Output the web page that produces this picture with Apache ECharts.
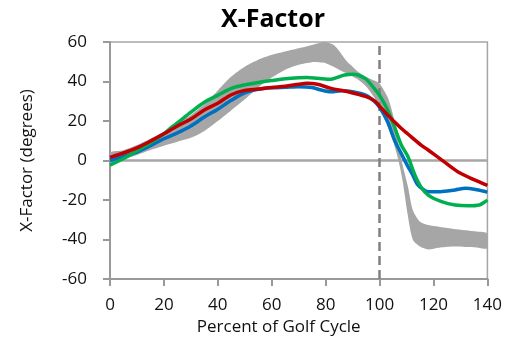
<!DOCTYPE html>
<html><head><meta charset="utf-8">
<script src="https://cdn.jsdelivr.net/npm/echarts@6/dist/echarts.min.js"></script>
<style>html,body{margin:0;padding:0;background:#fff}#c{width:505px;height:345px}</style>
</head><body><div id="c"></div>
<script>
// ---- data ----
const chartTitle = "X-Factor";
const xAxisTitle = "Percent of Golf Cycle";
const yAxisTitle = "X-Factor (degrees)";
const xRange = [0, 140, 20];   // min, max, step of tick labels
const yRange = [-60, 60, 20];
const swingEndX = 100;          // dashed vertical reference
const zeroY = 0;                // horizontal reference

// grey normative band (upper/lower edges)
const bandX = [0,5,10,15,20,25,30,35,40,45,50,55,60,65,70,75,78,80,83,85,88,90,92,95,98,100,103,105,107,108.5,110.5,112.3,115,118,122,127,132,136,140];
const bandUpper = [4,5.2,7.8,11,14.5,18.5,23,28.5,35.5,42.5,47.5,51,53.5,55.2,56.8,58.5,59.6,60,58.5,55.5,50,47.5,45,42.4,40.5,39,32,23,8,-2,-13,-25,-31,-32.7,-33.5,-34.5,-35.3,-36,-37];
const bandLower = [-1.5,0.5,2.8,5.3,7.5,9.5,11.5,15,20,25.5,31,37,42,46,48.5,49.8,49.6,49.3,47.5,46,44,42.5,41,37.5,32,27,17,10,0,-10,-28,-40,-43.6,-45,-44.2,-43.6,-43.8,-44,-44.5];

// blue subject
const blueX = [0,5,10,15,20,25,30,35,40,45,50,55,60,65,70,75,78,82,86,90,95,98,100,103,105.5,108,110.5,112,114,116,118,122,126,128,132,136,140];
const blueY = [0,2,4.3,7.5,11,14,17.5,22,26,30.5,34.2,36,36.8,37.1,37.4,37,35.8,34.8,35.3,34.8,33,30,27,19.6,10.4,3.6,-3,-6.5,-12,-14.5,-15.8,-15.8,-15.3,-14.9,-14.1,-14.8,-16];

// green subject
const greenX = [0,5,10,15,20,23,25,30,35,40,45,50,55,60,65,70,73,77,82,85,87,90,92,95,98,100,103,105.5,108,110.5,113,115.4,118,123,128,133,137,139,140];
const greenY = [-2.3,1,5,9,13.5,17,19,24.5,29.5,33,36.5,38.3,39.5,40.5,41.4,41.9,42,41.6,41.1,42.4,43.3,43.7,43.3,41.2,36.5,33,25.6,17.1,8,2,-7,-13.5,-17.5,-20.8,-22.5,-22.9,-22.5,-21,-20];

// red subject
const redX = [0,5,10,15,20,25,30,35,40,45,50,55,60,65,70,73,77,82,87,90,95,98,100,103,105.5,108,110.5,115.4,118,123,129,135,140];
const redY = [1.6,3.8,6.4,9.8,13.5,17.5,21,25.6,29,33.3,35.5,36.2,37,37.6,38.6,39.1,38.6,36.5,35.2,34.2,32.3,30.3,27.5,23,19.6,16.3,13.4,7.8,5.3,0.3,-5.7,-9.7,-12.6];

// ---- build ----
const pairs = (xs, ys) => xs.map((x, i) => [x, ys[i]]);
const FONT = "Open Sans";

function renderBand(params, api) {
  if (params.dataIndex !== 0) return null;
  const pts = [];
  for (let i = 0; i < bandX.length; i++) pts.push(api.coord([bandX[i], bandUpper[i]]));
  for (let i = bandX.length - 1; i >= 0; i--) pts.push(api.coord([bandX[i], bandLower[i]]));
  return {
    type: 'polygon',
    shape: {points: pts, smooth: 0.25},
    style: {fill: '#A6A6A6', stroke: null}
  };
}

const chart = echarts.init(document.getElementById('c'), null, {renderer: 'canvas'});
chart.setOption({
  animation: false,
  backgroundColor: '#fff',
  title: {
    text: chartTitle, left: 268, top: 2, textAlign: 'center',
    textStyle: {fontFamily: FONT, fontWeight: 'bold', fontSize: 25, color: '#000'}
  },
  grid: {left: 110, right: 17, top: 42, bottom: 66, show: true,
         borderColor: '#A6A6A6', borderWidth: 1.5, backgroundColor: 'transparent'},
  xAxis: {
    type: 'value', min: xRange[0], max: xRange[1], interval: xRange[2],
    name: xAxisTitle, nameLocation: 'middle', nameGap: 35,
    nameTextStyle: {fontFamily: FONT, fontSize: 17, color: '#111', padding: [0, 40, 0, 0]},
    axisLine: {show: true, onZero: false, lineStyle: {color: '#999', width: 2}},
    axisTick: {show: true, length: 7, lineStyle: {color: '#999', width: 2}},
    axisLabel: {fontFamily: FONT, fontSize: 17, color: '#111', margin: 18},
    splitLine: {show: false}
  },
  yAxis: {
    type: 'value', min: yRange[0], max: yRange[1], interval: yRange[2],
    name: yAxisTitle, nameLocation: 'middle', nameGap: 74,
    nameTextStyle: {fontFamily: FONT, fontSize: 17, color: '#111'},
    axisLine: {show: true, lineStyle: {color: '#999', width: 2}},
    axisTick: {show: true, length: 7, lineStyle: {color: '#999', width: 2}},
    axisLabel: {fontFamily: FONT, fontSize: 17, color: '#111', margin: 23},
    splitLine: {show: false}
  },
  series: [
    {
      type: 'custom', name: 'band', z: 1, clip: true, silent: true,
      renderItem: renderBand,
      data: bandX.map((x, i) => [x, bandLower[i], bandUpper[i]]),
      encode: {x: 0, y: [1, 2]},
      markLine: {
        z: 3, silent: true, symbol: 'none', label: {show: false},
        data: [
          {yAxis: zeroY, lineStyle: {color: '#A6A6A6', width: 2.5, type: 'solid'}},
          {xAxis: swingEndX, lineStyle: {color: '#808080', width: 2.5, type: [9, 5]}}
        ]
      }
    },
    {type: 'line', name: 'blue', z: 10, data: pairs(blueX, blueY), smooth: 0.3, symbol: 'none',
     lineStyle: {color: '#0070C0', width: 3.5}},
    {type: 'line', name: 'green', z: 10, data: pairs(greenX, greenY), smooth: 0.3, symbol: 'none',
     lineStyle: {color: '#00B050', width: 3.5}},
    {type: 'line', name: 'red', z: 10, data: pairs(redX, redY), smooth: 0.3, symbol: 'none',
     lineStyle: {color: '#C00000', width: 3.5}}
  ]
});
</script></body></html>
